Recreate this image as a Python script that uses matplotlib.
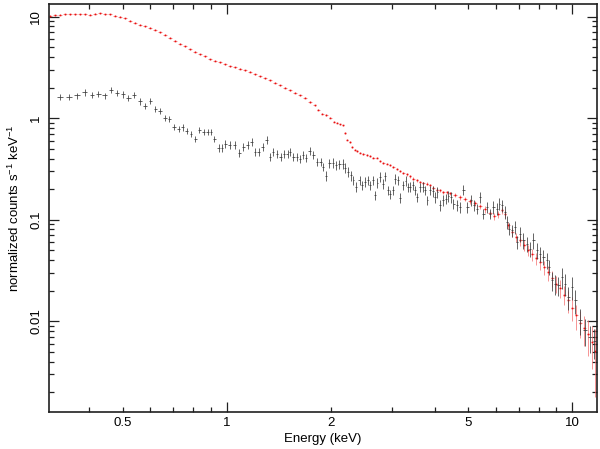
import numpy as np
import matplotlib
matplotlib.use("Agg")
import matplotlib.pyplot as plt
from matplotlib.ticker import FixedLocator, FuncFormatter, LogLocator, NullFormatter

plt.rcParams['font.family'] = ['Liberation Sans', 'DejaVu Sans']
plt.rcParams['mathtext.fontset'] = 'custom'
plt.rcParams['mathtext.rm'] = 'Liberation Sans'
plt.rcParams['mathtext.it'] = 'Liberation Sans:italic'

# black spectrum (bin centre in keV, normalized counts/s/keV, relative 1-sigma error)
black_energy = [
    0.330, 0.350, 0.369, 0.388, 0.408, 0.4255, 0.4433, 0.463, 0.482, 0.5006,
    0.5196, 0.5405, 0.560, 0.581, 0.6018, 0.621, 0.642, 0.664, 0.683, 0.704,
    0.7254, 0.7466, 0.767, 0.788, 0.811, 0.834, 0.859, 0.881, 0.902, 0.922,
    0.948, 0.967, 0.990, 1.020, 1.055, 1.087, 1.118, 1.149, 1.180, 1.209,
    1.238, 1.271, 1.307, 1.336, 1.363, 1.397, 1.435, 1.467, 1.500, 1.527,
    1.561, 1.597, 1.625, 1.662, 1.699, 1.739, 1.783, 1.824, 1.869, 1.906,
    1.941, 1.984, 2.029, 2.075, 2.121, 2.169, 2.203, 2.252, 2.288, 2.328,
    2.371, 2.424, 2.463, 2.517, 2.563, 2.602, 2.650, 2.690, 2.732, 2.782,
    2.832, 2.876, 2.924, 2.973, 3.027, 3.074, 3.125, 3.184, 3.243, 3.297,
    3.342, 3.397, 3.459, 3.512, 3.560, 3.631, 3.697, 3.754, 3.812, 3.881,
    3.951, 4.012, 4.075, 4.148, 4.224, 4.309, 4.385, 4.465, 4.533, 4.637,
    4.740, 4.846, 4.977, 5.090, 5.204, 5.320, 5.415, 5.537, 5.664, 5.788,
    5.917, 6.053, 6.159, 6.258, 6.397, 6.483, 6.570, 6.690, 6.839, 6.916,
    7.070, 7.228, 7.394, 7.558, 7.727, 7.904, 8.079, 8.260, 8.449, 8.579,
    8.735, 8.929, 9.126, 9.337, 9.544, 9.757, 9.979, 10.20, 10.55, 10.90,
    11.27, 11.58]
black_flux = [
    1.61, 1.61, 1.67, 1.79, 1.68, 1.74, 1.67, 1.905, 1.78, 1.71,
    1.57, 1.68, 1.46, 1.325, 1.47, 1.24, 1.175, 1.01, 0.991, 0.813,
    0.783, 0.810, 0.743, 0.705, 0.629, 0.760, 0.731, 0.731, 0.731, 0.629,
    0.513, 0.513, 0.562, 0.547, 0.549, 0.458, 0.520, 0.549, 0.582, 0.464,
    0.464, 0.516, 0.605, 0.415, 0.466, 0.447, 0.415, 0.441, 0.441, 0.464,
    0.415, 0.415, 0.400, 0.436, 0.409, 0.479, 0.434, 0.373, 0.373, 0.330,
    0.272, 0.359, 0.362, 0.343, 0.351, 0.357, 0.323, 0.295, 0.273, 0.244,
    0.210, 0.244, 0.218, 0.235, 0.244, 0.218, 0.244, 0.174, 0.230, 0.263,
    0.226, 0.267, 0.195, 0.178, 0.195, 0.254, 0.244, 0.164, 0.218, 0.241,
    0.208, 0.210, 0.218, 0.195, 0.166, 0.208, 0.211, 0.195, 0.155, 0.195,
    0.192, 0.167, 0.186, 0.138, 0.155, 0.161, 0.170, 0.166, 0.144, 0.138,
    0.133, 0.198, 0.133, 0.155, 0.138, 0.128, 0.167, 0.1146, 0.133, 0.1146,
    0.133, 0.128, 0.144, 0.138, 0.119, 0.0947, 0.0815, 0.0784, 0.0845, 0.0601,
    0.0728, 0.0625, 0.0580, 0.0518, 0.0625, 0.0498, 0.0462, 0.0428, 0.0397, 0.0341,
    0.0252, 0.0234, 0.0225, 0.0272, 0.0234, 0.0172, 0.0216, 0.0160, 0.0102, 0.0081,
    0.00695, 0.00631]
black_relerr = [
    0.07, 0.07, 0.07, 0.07, 0.07, 0.07, 0.07, 0.07, 0.07, 0.07,
    0.07, 0.07, 0.07, 0.07, 0.07, 0.07, 0.07, 0.07, 0.07, 0.07,
    0.07, 0.07, 0.07, 0.07, 0.07, 0.07, 0.07, 0.07, 0.07, 0.07,
    0.09, 0.09, 0.09, 0.09, 0.09, 0.09, 0.09, 0.09, 0.09, 0.09,
    0.09, 0.09, 0.09, 0.09, 0.09, 0.09, 0.09, 0.09, 0.09, 0.09,
    0.09, 0.09, 0.09, 0.09, 0.09, 0.09, 0.09, 0.09, 0.09, 0.09,
    0.11, 0.11, 0.11, 0.11, 0.11, 0.11, 0.11, 0.11, 0.11, 0.11,
    0.11, 0.11, 0.11, 0.11, 0.11, 0.11, 0.11, 0.11, 0.11, 0.11,
    0.11, 0.11, 0.11, 0.11, 0.11, 0.11, 0.11, 0.11, 0.11, 0.11,
    0.11, 0.11, 0.11, 0.11, 0.11, 0.11, 0.11, 0.11, 0.11, 0.11,
    0.12, 0.12, 0.12, 0.12, 0.12, 0.12, 0.12, 0.12, 0.12, 0.12,
    0.12, 0.12, 0.12, 0.12, 0.12, 0.12, 0.12, 0.12, 0.12, 0.12,
    0.14, 0.14, 0.14, 0.14, 0.14, 0.14, 0.14, 0.14, 0.14, 0.14,
    0.17, 0.17, 0.17, 0.17, 0.17, 0.17, 0.17, 0.17, 0.17, 0.17,
    0.22, 0.22, 0.22, 0.24, 0.24, 0.25, 0.25, 0.26, 0.28, 0.30,
    0.30, 0.32]

# red spectrum
red_energy = [
    0.308, 0.319, 0.330, 0.341, 0.352, 0.364, 0.377, 0.390, 0.403, 0.416,
    0.430, 0.445, 0.460, 0.476, 0.492, 0.508, 0.526, 0.543, 0.562, 0.581,
    0.600, 0.621, 0.642, 0.664, 0.686, 0.710, 0.734, 0.758, 0.784, 0.811,
    0.838, 0.867, 0.896, 0.926, 0.958, 0.990, 1.024, 1.058, 1.094, 1.131,
    1.170, 1.209, 1.250, 1.292, 1.336, 1.382, 1.428, 1.477, 1.527, 1.579,
    1.632, 1.687, 1.745, 1.804, 1.840, 1.890, 1.941, 1.993, 2.047, 2.088,
    2.131, 2.174, 2.196, 2.233, 2.270, 2.308, 2.347, 2.386, 2.435, 2.484,
    2.551, 2.602, 2.655, 2.726, 2.782, 2.838, 2.914, 2.973, 3.033, 3.115,
    3.178, 3.243, 3.331, 3.397, 3.466, 3.560, 3.631, 3.705, 3.805, 3.881,
    3.959, 4.068, 4.148, 4.232, 4.347, 4.434, 4.584, 4.740, 4.900, 5.066,
    5.238, 5.415, 5.599, 5.788, 5.945, 6.106, 6.271, 6.397, 6.528, 6.705,
    6.886, 7.070, 7.262, 7.458, 7.660, 7.867, 8.079, 8.298, 8.521, 8.752,
    8.988, 9.232, 9.480, 9.737, 10.00, 10.27, 10.55, 10.83, 11.12, 11.43,
    11.66]
red_flux = [
    10.23, 10.35, 10.39, 10.51, 10.53, 10.53, 10.51, 10.51, 10.46, 10.70,
    10.75, 10.58, 10.51, 10.23, 10.0, 9.66, 9.13, 8.73, 8.34, 8.06,
    7.79, 7.44, 7.03, 6.65, 6.21, 5.76, 5.42, 5.08, 4.75, 4.49,
    4.27, 4.08, 3.79, 3.69, 3.56, 3.40, 3.25, 3.18, 3.07, 2.97,
    2.86, 2.71, 2.59, 2.47, 2.37, 2.23, 2.11, 1.99, 1.88, 1.78,
    1.68, 1.59, 1.44, 1.34, 1.21, 1.11, 1.07, 1.01, 0.924, 0.903,
    0.871, 0.851, 0.710, 0.615, 0.582, 0.520, 0.490, 0.475, 0.458, 0.447,
    0.431, 0.421, 0.409, 0.409, 0.378, 0.362, 0.357, 0.343, 0.330, 0.318,
    0.302, 0.288, 0.280, 0.267, 0.254, 0.244, 0.235, 0.230, 0.226, 0.218,
    0.207, 0.198, 0.195, 0.187, 0.187, 0.182, 0.174, 0.166, 0.159, 0.152,
    0.145, 0.135, 0.126, 0.115, 0.108, 0.113, 0.124, 0.113, 0.0879, 0.0750,
    0.0669, 0.0625, 0.0558, 0.0498, 0.0455, 0.0415, 0.0379, 0.0338, 0.0302, 0.0264,
    0.0235, 0.0210, 0.0183, 0.0160, 0.0136, 0.0114, 0.0097, 0.0085, 0.0074, 0.0062,
    0.0051]
red_relerr = [
    0.01, 0.01, 0.01, 0.01, 0.01, 0.01, 0.01, 0.01, 0.01, 0.01,
    0.01, 0.01, 0.01, 0.01, 0.01, 0.01, 0.01, 0.01, 0.01, 0.01,
    0.01, 0.01, 0.01, 0.01, 0.01, 0.01, 0.01, 0.01, 0.01, 0.01,
    0.01, 0.01, 0.01, 0.01, 0.01, 0.01, 0.01, 0.01, 0.01, 0.01,
    0.01, 0.01, 0.01, 0.01, 0.01, 0.01, 0.01, 0.01, 0.01, 0.01,
    0.015, 0.015, 0.015, 0.015, 0.015, 0.015, 0.015, 0.015, 0.015, 0.015,
    0.015, 0.015, 0.02, 0.02, 0.02, 0.02, 0.02, 0.02, 0.02, 0.02,
    0.02, 0.02, 0.02, 0.02, 0.02, 0.02, 0.02, 0.02, 0.02, 0.02,
    0.03, 0.03, 0.03, 0.03, 0.03, 0.03, 0.03, 0.03, 0.03, 0.03,
    0.03, 0.03, 0.03, 0.035, 0.035, 0.04, 0.045, 0.05, 0.05, 0.055,
    0.06, 0.065, 0.07, 0.07, 0.08, 0.08, 0.08, 0.08, 0.09, 0.10,
    0.10, 0.11, 0.12, 0.12, 0.13, 0.14, 0.15, 0.16, 0.17, 0.18,
    0.19, 0.20, 0.22, 0.24, 0.26, 0.28, 0.30, 0.33, 0.38, 0.45,
    0.65]


def half_widths(energy, frac):
    """x error bars from the geometric midpoints between neighbouring bins"""
    e = np.asarray(energy)
    mid = np.sqrt(e[1:] * e[:-1])
    lo = np.concatenate([[e[0] ** 2 / mid[0]], mid])
    hi = np.concatenate([mid, [e[-1] ** 2 / mid[-1]]])
    return np.vstack([(e - lo) * frac, (hi - e) * frac])


fig = plt.figure(figsize=(6, 4.49), dpi=100)
ax = fig.add_axes([49 / 600, 1 - 411.5 / 449, 548 / 600, 407.5 / 449])

rf = np.asarray(red_flux)
ax.errorbar(red_energy, rf, xerr=half_widths(red_energy, 0.8),
            yerr=rf * np.asarray(red_relerr), fmt='none',
            ecolor='#f46a6a', elinewidth=0.5, capsize=0)
ax.plot(red_energy, rf, ls='none', marker='s', ms=1.2, mew=0,
        color='#e81010')
bf = np.asarray(black_flux)
ax.errorbar(black_energy, bf, xerr=half_widths(black_energy, 0.7),
            yerr=bf * np.asarray(black_relerr), fmt='none',
            ecolor='#3a3a3a', elinewidth=0.55, capsize=0)

ax.set_xscale('log')
ax.set_yscale('log')
ax.set_xlim(0.306, 11.8)
ax.set_ylim(0.00129, 13.3)

# x ticks: long ticks at decades, labels also on 0.5, 2, 5
ax.xaxis.set_major_locator(FixedLocator([1, 10]))
ax.xaxis.set_minor_locator(FixedLocator([0.4, 0.5, 0.6, 0.7, 0.8, 0.9,
                                         2, 3, 4, 5, 6, 7, 8, 9]))
ax.xaxis.set_major_formatter(FuncFormatter(lambda v, p: '%g' % v))
ax.xaxis.set_minor_formatter(FuncFormatter(
    lambda v, p: '%g' % v if round(v, 3) in (0.5, 2, 5) else ''))

ax.yaxis.set_major_locator(FixedLocator([0.01, 0.1, 1, 10]))
ax.yaxis.set_minor_locator(LogLocator(base=10, subs=range(2, 10), numticks=20))
ax.yaxis.set_major_formatter(FuncFormatter(lambda v, p: '%g' % v))
ax.yaxis.set_minor_formatter(NullFormatter())

ax.tick_params(which='both', direction='in', top=True, right=True,
               labelsize=9.5, width=0.9, colors='#202020', labelcolor='black')
ax.tick_params(which='major', length=7)
ax.tick_params(which='minor', length=3.5)
ax.tick_params(axis='x', which='both', pad=4)
ax.tick_params(axis='y', which='both', pad=5)
for lab in ax.get_yticklabels():
    lab.set_rotation(90)
    lab.set_va('center')

for s in ax.spines.values():
    s.set_linewidth(1.2)
    s.set_color('#202020')

ax.set_xlabel('Energy (keV)', fontsize=9.5, labelpad=3)
ax.set_ylabel(r'normalized counts s$^{-1}$ keV$^{-1}$', fontsize=9.5)
ax.yaxis.set_label_coords(-0.05, 0.5)

fig.savefig('out.png', dpi=100)
